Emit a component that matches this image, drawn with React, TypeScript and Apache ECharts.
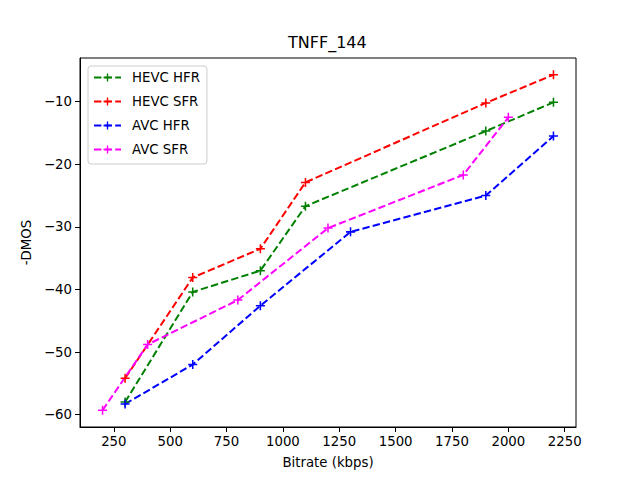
import React, { useEffect, useRef } from "react";
import * as echarts from "echarts";

const seriesNames = ["HEVC HFR", "HEVC SFR", "AVC HFR", "AVC SFR"];
const seriesColors = ["#008000", "#ff0000", "#0000ff", "#ff00ff"];

const hevcHfrX = [300, 600, 900, 1100, 1900, 2200];
const hevcHfrY = [-58.0, -40.4, -37.0, -26.7, -14.7, -10.1];

const hevcSfrX = [300, 600, 900, 1100, 1900, 2200];
const hevcSfrY = [-54.2, -38.1, -33.5, -22.9, -10.2, -5.7];

const avcHfrX = [300, 600, 900, 1300, 1900, 2200];
const avcHfrY = [-58.3, -52.0, -42.6, -30.8, -25.0, -15.5];

const avcSfrX = [200, 400, 800, 1200, 1800, 2000];
const avcSfrY = [-59.3, -48.8, -41.7, -30.2, -21.7, -12.5];

const xTicks = [250, 500, 750, 1000, 1250, 1500, 1750, 2000, 2250];
const yTicks = [-60, -50, -40, -30, -20, -10];

const allX = [hevcHfrX, hevcSfrX, avcHfrX, avcSfrX];
const allY = [hevcHfrY, hevcSfrY, avcHfrY, avcSfrY];

const FONT = "DejaVu Sans";
const FS = 13.3;
const PLUS = "path://M4.15,0H5.85V4.15H10V5.85H5.85V10H4.15V5.85H0V4.15H4.15Z";

function pad(values: number[][]) {
  const flat = values.flat();
  const lo = Math.min(...flat);
  const hi = Math.max(...flat);
  const m = (hi - lo) * 0.05;
  return [lo - m, hi + m];
}

const fmt = (v: number) => (v < 0 ? "\u2212" + Math.abs(v) : String(v));

export default function App() {
  const ref = useRef<HTMLDivElement>(null);
  useEffect(() => {
    if (!ref.current) return;
    const chart = echarts.init(ref.current, null, { renderer: "svg" });
    const [xMin, xMax] = pad(allX);
    const [yMin, yMax] = pad(allY);
    chart.setOption({
      animation: false,
      backgroundColor: "#ffffff",
      textStyle: { fontFamily: FONT },
      title: {
        text: "TNFF_144",
        left: 288,
        top: 34,
        padding: 0,
        textStyle: { fontFamily: FONT, fontSize: 16, fontWeight: "normal", color: "#000" },
      },
      legend: {
        orient: "vertical",
        left: 88,
        top: 66,
        padding: [5, 7, 8, 5],
        itemGap: 11,
        itemWidth: 27,
        itemHeight: 10,
        borderColor: "#cccccc",
        borderWidth: 1,
        borderRadius: 3,
        backgroundColor: "rgba(255,255,255,0.8)",
        lineStyle: { type: [7.4, 3.2], width: 2 },
        textStyle: { fontFamily: FONT, fontSize: FS, color: "#000", padding: [0, 0, 0, 6] },
        data: seriesNames,
      },
      grid: {
        left: 80,
        right: 64,
        top: 58,
        bottom: 53,
        show: true,
        borderColor: "#000",
        borderWidth: 1,
        backgroundColor: "transparent",
      },
      xAxis: {
        type: "value",
        min: xMin,
        max: xMax,
        name: "Bitrate (kbps)",
        nameLocation: "middle",
        nameGap: 29,
        nameTextStyle: { fontFamily: FONT, fontSize: FS, color: "#000" },
        axisLine: { show: true, lineStyle: { color: "#000", width: 1 } },
        axisTick: { show: true, length: 5, lineStyle: { color: "#000" }, customValues: xTicks },
        axisLabel: {
          fontFamily: FONT,
          fontSize: FS,
          color: "#000",
          margin: 8,
          customValues: xTicks,
          formatter: (v: number) => fmt(v),
        },
        splitLine: { show: false },
      },
      yAxis: {
        type: "value",
        min: yMin,
        max: yMax,
        name: "-DMOS",
        nameLocation: "middle",
        nameGap: 47,
        nameRotate: 90,
        nameTextStyle: { fontFamily: FONT, fontSize: FS, color: "#000" },
        axisLine: { show: true, lineStyle: { color: "#000", width: 1 } },
        axisTick: { show: true, length: 5, lineStyle: { color: "#000" }, customValues: yTicks },
        axisLabel: {
          fontFamily: FONT,
          fontSize: FS,
          color: "#000",
          margin: 8,
          customValues: yTicks,
          formatter: (v: number) => fmt(v),
        },
        splitLine: { show: false },
      },
      series: seriesNames.map((name, i) => ({
        name,
        type: "line",
        data: allX[i].map((x, j) => [x, allY[i][j]]),
        symbol: PLUS,
        symbolSize: 9,
        showSymbol: true,
        color: seriesColors[i],
        itemStyle: { color: seriesColors[i] },
        lineStyle: { color: seriesColors[i], width: 2, type: [7.4, 3.2] },
        emphasis: { disabled: true },
      })),
    });
    return () => chart.dispose();
  }, []);
  return (
    <div
      ref={ref}
      style={{ position: "fixed", left: 0, top: 0, width: 640, height: 480 }}
    />
  );
}
